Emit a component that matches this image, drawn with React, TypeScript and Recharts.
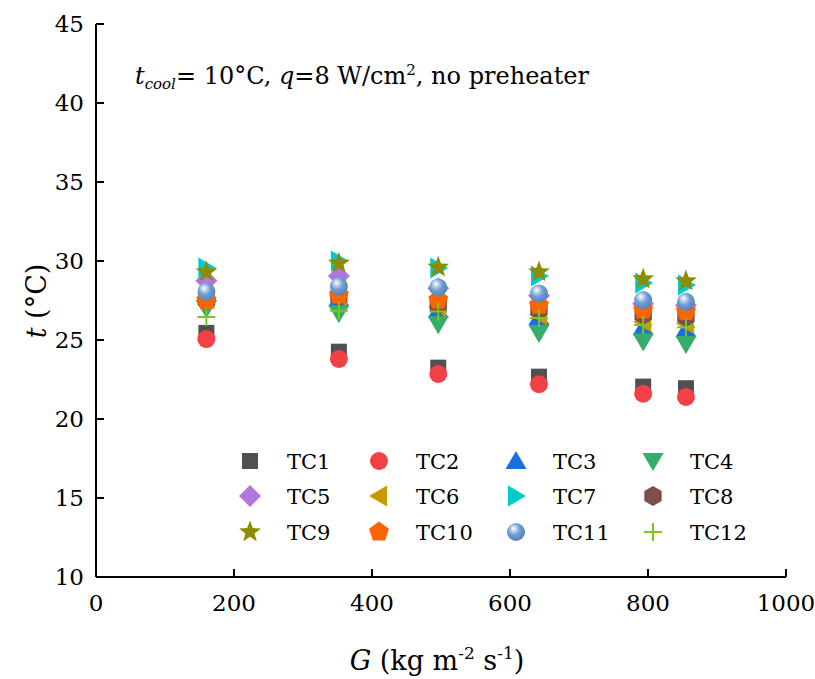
import { ScatterChart, Scatter, XAxis, YAxis } from "recharts";

// Mass flux G (kg m-2 s-1) for each test point
const G = [160, 352, 496, 642, 793, 855];

// Thermocouple readings t (°C) at each G
const TC1 = [25.45, 24.26, 23.25, 22.68, 22.05, 21.95];
const TC2 = [25.06, 23.8, 22.85, 22.2, 21.6, 21.4];
const TC3 = [27.95, 27.65, 26.9, 26.45, 25.8, 25.68];
const TC4 = [27.0, 26.7, 26.0, 25.45, 24.9, 24.75];
const TC5 = [28.75, 29.05, 28.27, 27.8, 27.3, 27.2];
const TC6 = [27.6, 27.8, 27.1, 26.6, 26.15, 26.05];
const TC7 = [29.56, 30.0, 29.55, 29.05, 28.6, 28.48];
const TC8 = [27.5, 27.75, 27.2, 26.9, 26.6, 26.45];
const TC9 = [29.3, 29.85, 29.6, 29.3, 28.85, 28.73];
const TC10 = [27.5, 27.85, 27.53, 27.2, 26.9, 26.8];
const TC11 = [28.06, 28.4, 28.33, 27.95, 27.53, 27.42];
const TC12 = [26.45, 26.85, 26.8, 26.4, 25.95, 25.8];

const X_TICKS = [0, 200, 400, 600, 800, 1000];
const Y_TICKS = [10, 15, 20, 25, 30, 35, 40, 45];

type Kind =
  | "square"
  | "circle"
  | "up"
  | "down"
  | "diamond"
  | "left"
  | "right"
  | "hexagon"
  | "star"
  | "pentagon"
  | "sphere"
  | "plus";

const SERIES: { name: string; values: number[]; color: string; kind: Kind }[] = [
  { name: "TC1", values: TC1, color: "#505050", kind: "square" },
  { name: "TC2", values: TC2, color: "#f14046", kind: "circle" },
  { name: "TC3", values: TC3, color: "#1a6fdf", kind: "up" },
  { name: "TC4", values: TC4, color: "#37ad6b", kind: "down" },
  { name: "TC5", values: TC5, color: "#b177de", kind: "diamond" },
  { name: "TC6", values: TC6, color: "#cc9900", kind: "left" },
  { name: "TC7", values: TC7, color: "#00cbcc", kind: "right" },
  { name: "TC8", values: TC8, color: "#7d4e4e", kind: "hexagon" },
  { name: "TC9", values: TC9, color: "#8e8c00", kind: "star" },
  { name: "TC10", values: TC10, color: "#fb6500", kind: "pentagon" },
  { name: "TC11", values: TC11, color: "#6699cc", kind: "sphere" },
  { name: "TC12", values: TC12, color: "#7cc621", kind: "plus" },
];

const FONT = "'DejaVu Serif', serif";
const W = 815;
const H = 679;

function poly(cx: number, cy: number, r: number, n: number, start: number) {
  const pts: string[] = [];
  for (let k = 0; k < n; k++) {
    const a = ((start + (k * 360) / n) * Math.PI) / 180;
    pts.push(`${cx + r * Math.cos(a)},${cy + r * Math.sin(a)}`);
  }
  return pts.join(" ");
}

function starPoints(cx: number, cy: number, ro: number, ri: number) {
  const pts: string[] = [];
  for (let k = 0; k < 10; k++) {
    const r = k % 2 === 0 ? ro : ri;
    const a = ((-90 + k * 36) * Math.PI) / 180;
    pts.push(`${cx + r * Math.cos(a)},${cy + r * Math.sin(a)}`);
  }
  return pts.join(" ");
}

function Marker({ kind, x, y, color }: { kind: Kind; x: number; y: number; color: string }) {
  switch (kind) {
    case "square":
      return <rect x={x - 8} y={y - 8} width={16} height={16} fill={color} />;
    case "circle":
      return <circle cx={x} cy={y} r={9} fill={color} />;
    case "up":
      return <polygon points={`${x},${y - 10} ${x + 10.5},${y + 8} ${x - 10.5},${y + 8}`} fill={color} />;
    case "down":
      return <polygon points={`${x - 10.5},${y - 8} ${x + 10.5},${y - 8} ${x},${y + 10}`} fill={color} />;
    case "diamond":
      return <polygon points={poly(x, y, 11, 4, -90)} fill={color} />;
    case "left":
      return <polygon points={`${x - 10},${y} ${x + 8},${y - 10.5} ${x + 8},${y + 10.5}`} fill={color} />;
    case "right":
      return <polygon points={`${x + 10},${y} ${x - 8},${y - 10.5} ${x - 8},${y + 10.5}`} fill={color} />;
    case "hexagon":
      return <polygon points={poly(x, y, 10, 6, -90)} fill={color} />;
    case "star":
      return <polygon points={starPoints(x, y, 11.5, 4.8)} fill={color} />;
    case "pentagon":
      return <polygon points={poly(x, y, 10.5, 5, -90)} fill={color} />;
    case "sphere":
      return (
        <g>
          <defs>
            <radialGradient id="ballGrad" cx="0.42" cy="0.38" r="0.62" fx="0.36" fy="0.3">
              <stop offset="0" stopColor="#ffffff" />
              <stop offset="0.22" stopColor="#c4d6ec" />
              <stop offset="0.55" stopColor="#6e9dd2" />
              <stop offset="1" stopColor="#5584bb" />
            </radialGradient>
          </defs>
          <circle cx={x} cy={y} r={9} fill="url(#ballGrad)" />
        </g>
      );
    case "plus":
      return (
        <path
          d={`M${x - 9},${y} H${x + 9} M${x},${y - 9} V${y + 9}`}
          stroke={color}
          strokeWidth={2}
          fill="none"
        />
      );
  }
  return null;
}

// legend grid: 4 columns x 3 rows
const LEG_SYMBOL_X = [250, 379, 516, 653];
const LEG_TEXT_X = [287, 416, 553, 690];
const LEG_ROW_Y = [461, 496, 532];

function Overlay() {
  return (
    <svg
      width={W}
      height={H}
      style={{ position: "absolute", left: 0, top: 0, pointerEvents: "none" }}
      fontFamily={FONT}
    >
      <text x={135} y={84} fontSize={24} fill="#000">
        <tspan fontStyle="italic">t</tspan>
        <tspan fontStyle="italic" fontSize={15} dy={5}>cool</tspan>
        <tspan dy={-5}>= 10°C, </tspan>
        <tspan fontStyle="italic">q</tspan>
        <tspan>=8 W/cm</tspan>
        <tspan fontSize={15} dy={-9}>2</tspan>
        <tspan dy={9}>, no preheater</tspan>
      </text>

      {SERIES.map((s, i) => {
        const col = i % 4;
        const row = Math.floor(i / 4);
        const y = LEG_ROW_Y[row];
        return (
          <g key={s.name}>
            <Marker kind={s.kind} x={LEG_SYMBOL_X[col]} y={y} color={s.color} />
            <text x={LEG_TEXT_X[col]} y={y + 8} fontSize={21} fill="#000">
              {s.name}
            </text>
          </g>
        );
      })}

      <text x={437} y={670} fontSize={27} textAnchor="middle" fill="#000">
        <tspan fontStyle="italic">G</tspan>
        <tspan> (kg m</tspan>
        <tspan fontSize={17} dy={-11}>-2</tspan>
        <tspan dy={11}> s</tspan>
        <tspan fontSize={17} dy={-11}>-1</tspan>
        <tspan dy={11}>)</tspan>
      </text>

      <text
        x={0}
        y={0}
        fontSize={27}
        textAnchor="middle"
        fill="#000"
        transform="translate(46,301) rotate(-90)"
      >
        <tspan fontStyle="italic">t</tspan>
        <tspan> (°C)</tspan>
      </text>
    </svg>
  );
}

const tickStyle = { fill: "#000", fontSize: 23, fontFamily: FONT };
const axisStroke = { stroke: "#000", strokeWidth: 2 };

export default function App() {
  return (
    <div style={{ position: "absolute", left: 0, top: 0, width: W, height: H, background: "#fff" }}>
      <ScatterChart width={W} height={H} margin={{ top: 24, right: 29, bottom: 0, left: 0 }}>
        <XAxis
          type="number"
          dataKey="g"
          domain={[0, 1000]}
          ticks={X_TICKS}
          height={102}
          tick={tickStyle}
          tickSize={-8}
          tickMargin={26}
          axisLine={axisStroke}
          tickLine={axisStroke}
          allowDataOverflow
        />
        <XAxis
          xAxisId="top"
          orientation="top"
          type="number"
          domain={[0, 1000]}
          height={0}
          tick={false}
          tickLine={false}
          axisLine={axisStroke}
        />
        <YAxis
          type="number"
          dataKey="t"
          domain={[10, 45]}
          ticks={Y_TICKS}
          width={96}
          tick={tickStyle}
          tickSize={-8}
          tickMargin={20}
          axisLine={axisStroke}
          tickLine={axisStroke}
          allowDataOverflow
        />
        <YAxis
          yAxisId="right"
          orientation="right"
          type="number"
          domain={[10, 45]}
          width={0}
          tick={false}
          tickLine={false}
          axisLine={axisStroke}
        />
        {SERIES.map((s) => (
          <Scatter
            key={s.name}
            name={s.name}
            data={G.map((g, i) => ({ g, t: s.values[i] }))}
            isAnimationActive={false}
            shape={(p: any) => <Marker kind={s.kind} x={p.cx} y={p.cy} color={s.color} />}
          />
        ))}
      </ScatterChart>
      <Overlay />
    </div>
  );
}
